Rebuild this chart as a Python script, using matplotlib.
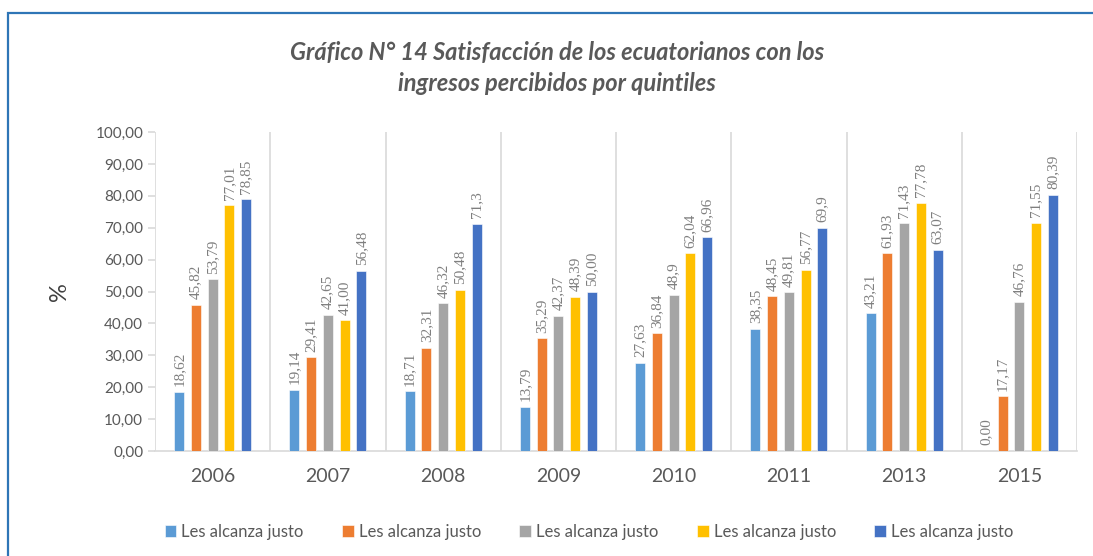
import matplotlib.pyplot as plt
import numpy as np
from matplotlib.patches import Rectangle

# data
years = ['2006', '2007', '2008', '2009', '2010', '2011', '2013', '2015']
series_names = ['Les alcanza justo'] * 5
colors = ['#5B9BD5', '#ED7D31', '#A5A5A5', '#FFC000', '#4472C4']

q1 = [18.62, 19.14, 18.71, 13.79, 27.63, 38.35, 43.21, 0.00]
q2 = [45.82, 29.41, 32.31, 35.29, 36.84, 48.45, 61.93, 17.17]
q3 = [53.79, 42.65, 46.32, 42.37, 48.9, 49.81, 71.43, 46.76]
q4 = [77.01, 41.00, 50.48, 48.39, 62.04, 56.77, 77.78, 71.55]
q5 = [78.85, 56.48, 71.3, 50.00, 66.96, 69.9, 63.07, 80.39]

q1_labels = ['18,62', '19,14', '18,71', '13,79', '27,63', '38,35', '43,21', '0,00']
q2_labels = ['45,82', '29,41', '32,31', '35,29', '36,84', '48,45', '61,93', '17,17']
q3_labels = ['53,79', '42,65', '46,32', '42,37', '48,9', '49,81', '71,43', '46,76']
q4_labels = ['77,01', '41,00', '50,48', '48,39', '62,04', '56,77', '77,78', '71,55']
q5_labels = ['78,85', '56,48', '71,3', '50,00', '66,96', '69,9', '63,07', '80,39']

all_values = [q1, q2, q3, q4, q5]
all_labels = [q1_labels, q2_labels, q3_labels, q4_labels, q5_labels]

plt.rcParams['font.family'] = ['Lato', 'DejaVu Sans']

fig = plt.figure(figsize=(10.93, 5.56), dpi=100)
ax = fig.add_axes([155 / 1093, 1 - 451 / 556, (1077 - 155) / 1093, (451 - 132) / 556])

x = np.arange(len(years))
pitch = 0.145
width = 0.087
for i, (vals, labs) in enumerate(zip(all_values, all_labels)):
    pos = x + (i - 2) * pitch
    ax.bar(pos, vals, width, color=colors[i], edgecolor='white', linewidth=0.4,
           label=series_names[i], zorder=3)
    for px, v, lab in zip(pos, vals, labs):
        ax.annotate(lab, (px, v), xytext=(0, 4), textcoords='offset points',
                    rotation=90, ha='center', va='bottom', fontsize=11,
                    color='#7F7F7F', family='Liberation Serif')

# category separators
for b in np.arange(len(years) + 1) - 0.5:
    ax.plot([b, b], [0, 100], color='#D9D9D9', linewidth=1.2, zorder=1)

ax.set_xlim(-0.5, len(years) - 0.5)
ax.set_ylim(0, 100)
ax.set_yticks(np.arange(0, 101, 10))
ax.set_yticklabels([f'{t:.2f}'.replace('.', ',') for t in np.arange(0, 101, 10)])
ax.set_xticks(x)
ax.set_xticklabels(years)
for s in ['top', 'right']:
    ax.spines[s].set_visible(False)
ax.spines['left'].set_visible(False)
ax.spines['bottom'].set_color('#D9D9D9')
ax.spines['bottom'].set_linewidth(1.2)
ax.tick_params(axis='y', colors='#D9D9D9', labelcolor='#595959', labelsize=11,
               length=5, width=1.2)
ax.tick_params(axis='x', length=0, labelsize=14, labelcolor='#595959', pad=12)
ax.set_ylabel('%', fontsize=17, color='#404040', labelpad=18)

fig.text(557 / 1093, 1 - 68 / 556,
         'Gráfico N° 14 Satisfacción de los ecuatorianos con los\ningresos percibidos por quintiles',
         ha='center', va='center', fontsize=17, fontweight='bold', fontstyle='italic',
         color='#595959', linespacing=1.45)

fig.legend(loc='center', bbox_to_anchor=(589 / 1093, 1 - 532 / 556), ncol=5,
           frameon=False, fontsize=12, handlelength=0.7, handleheight=0.7,
           handletextpad=0.3, columnspacing=2.3, labelcolor='#595959')

# blue chart border
fig.patches.append(Rectangle((8 / 1093, -0.2), 1.2, 1.2 - 13 / 556 + 0.0,
                             transform=fig.transFigure, fill=False,
                             edgecolor='#2E75B6', linewidth=1.6))

fig.savefig('out.png', dpi=100)
